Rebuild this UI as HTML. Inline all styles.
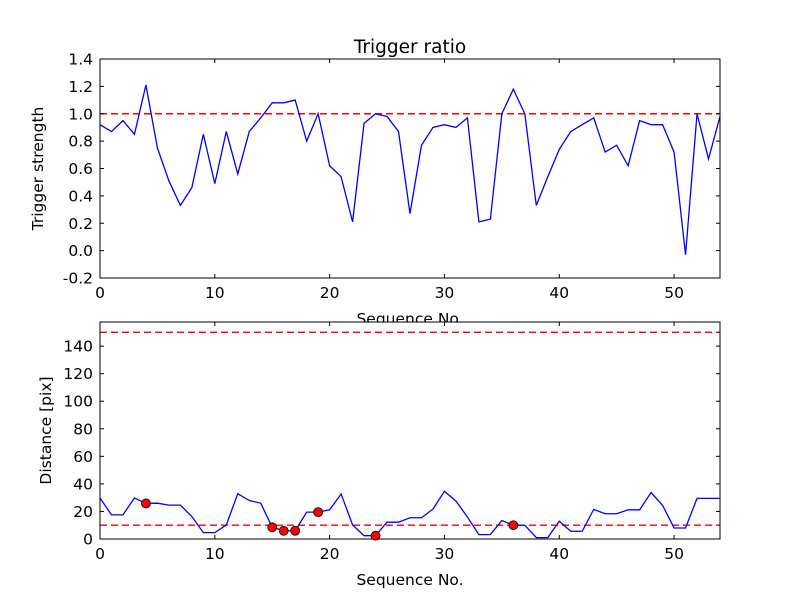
<!DOCTYPE html>
<html><head><meta charset="utf-8"><style>
body{margin:0;background:#fff;}
svg{display:block;font-family:"DejaVu Sans","Liberation Sans",sans-serif;}
</style></head><body>
<svg id="c" width="800" height="600" viewBox="0 0 800 600"></svg>
<script>
const seqTop=[0.92,0.87,0.95,0.85,1.21,0.75,0.51,0.33,0.46,0.85,0.49,0.87,0.56,0.87,0.97,1.08,1.08,1.10,0.80,1.00,0.62,0.54,0.21,0.93,1.00,0.98,0.87,0.27,0.77,0.90,0.92,0.90,0.97,0.21,0.23,1.00,1.18,1.00,0.33,0.54,0.74,0.87,0.92,0.97,0.72,0.77,0.62,0.95,0.92,0.92,0.72,-0.03,1.00,0.67,0.98];
const distance=[29.8,17.5,17.5,29.8,25.8,26,24.6,24.6,16.3,4.6,4.6,10.2,32.9,27.9,26,8.5,6,6,19.5,19.5,21.2,32.7,10.2,2.4,2.4,12.2,12.2,15.4,15.4,21.7,34.6,27.6,16,3.2,3.2,13.4,10,10,1,1,12.9,5.6,5.6,21.5,18.3,18.3,21.2,21.2,33.7,24.4,8,8,29.5,29.5,29.5];
const flagged=[4,15,16,17,19,24,36];
const topTicks=[-0.2,0.0,0.2,0.4,0.6,0.8,1.0,1.2,1.4];
const botTicks=[0,20,40,60,80,100,120,140];
const xTicks=[0,10,20,30,40,50];
const topThreshold=1.0;
const botThresholds=[10,150];

const NS='http://www.w3.org/2000/svg';
const svg=document.getElementById('c');
function mk(t,a,p){const e=document.createElementNS(NS,t);for(const k in a)e.setAttribute(k,a[k]);(p||svg).appendChild(e);return e;}
const L=100,R=720;
const xs=v=>L+(v/54)*(R-L);
function panel(name,top,bot,ymin,ymax,ticks,fmt,ylabel,data,thresholds,title,ylx){
  const ys=v=>bot-(v-ymin)/(ymax-ymin)*(bot-top);
  const g=mk('g',{});
  
  
  mk('rect',{x:L,y:top,width:R-L,height:bot-top,fill:'#fff'},g);
  thresholds.forEach(t=>{const l=mk('line',{x1:L,x2:R,y1:ys(t),y2:ys(t),stroke:'#f00','stroke-width':1.4,'stroke-dasharray':'7,4'},g);
    });
  const pl=mk('polyline',{points:data.map((v,i)=>xs(i)+','+ys(v)).join(' '),fill:'none',stroke:'#00f','stroke-width':1.3},g);
  
  mk('rect',{x:L,y:top,width:R-L,height:bot-top,fill:'none',stroke:'#000','stroke-width':1},g);
  ticks.forEach(t=>{const y=ys(t);
    mk('line',{x1:L,x2:L+4,y1:y,y2:y,stroke:'#000'},g);mk('line',{x1:R,x2:R-4,y1:y,y2:y,stroke:'#000'},g);
    const tx=mk('text',{x:93,y:y+5.5,'text-anchor':'end','font-size':15.5},g);tx.textContent=fmt(t);
    });
  xTicks.forEach(t=>{const x=xs(t);
    mk('line',{x1:x,x2:x,y1:bot,y2:bot-4,stroke:'#000'},g);mk('line',{x1:x,x2:x,y1:top,y2:top+4,stroke:'#000'},g);
    const tx=mk('text',{x:x,y:bot+20,'text-anchor':'middle','font-size':15.5},g);tx.textContent=t;
    });
  const xl=mk('text',{x:410,y:bot+46,'text-anchor':'middle','font-size':15.5},g);xl.textContent='Sequence No.';
  
  const yl=mk('text',{x:0,y:0,'text-anchor':'middle','font-size':15.5,transform:`translate(${ylx},${(top+bot)/2}) rotate(-90)`},g);yl.textContent=ylabel;
  
  if(title){const t=mk('text',{x:410,y:top-6,'text-anchor':'middle','font-size':18.5},g);t.textContent=title;
    }
  return ys;
}
panel('top-panel',59,278,-0.2,1.4,topTicks,v=>v.toFixed(1),'Trigger strength',seqTop,[topThreshold],'Trigger ratio',43);
const ysB=panel('bottom-panel',322,539,0,157.5,botTicks,v=>String(v),'Distance [pix]',distance,botThresholds,null,51);
flagged.forEach(i=>{const c=mk('circle',{cx:xs(i),cy:ysB(distance[i]),r:4.5,fill:'#f00',stroke:'#000','stroke-width':0.8});
  
  });
</script>
</body></html>
